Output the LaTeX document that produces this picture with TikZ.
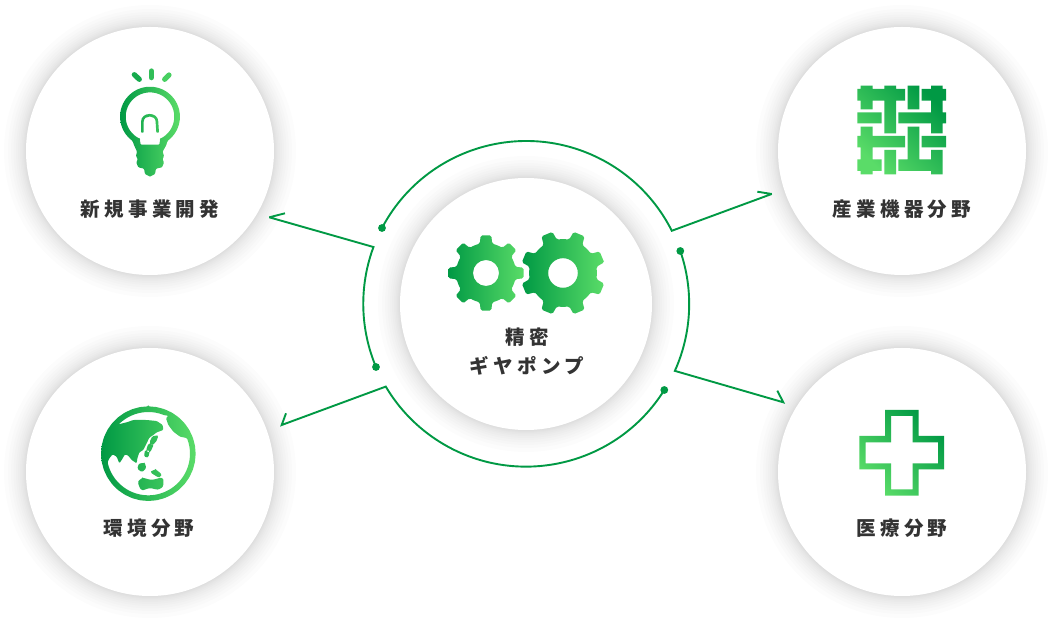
\documentclass[tikz,border=0pt]{standalone}
\usepackage{fontspec}
\newfontfamily\jpfont[LetterSpace=22]{Noto Sans CJK JP}
\definecolor{gDark}{HTML}{009944}
\definecolor{gLight}{HTML}{5ADC68}
\definecolor{ink}{HTML}{333333}
\tikzset{
	bubble/.style={circle,fill=white,inner sep=0pt,minimum size=248pt},
	hub/.style={circle,fill=white,inner sep=0pt,minimum size=252pt},
	lbl/.style={text=ink,align=center,font=\jpfont\bfseries\fontsize{19.5}{29.5}\selectfont},
	link/.style={gDark,line width=1.9pt,line join=miter,miter limit=3},
	dot/.style={fill=gDark,draw=none},
	gradh/.style={left color=gDark,right color=gLight},
	gradd/.style={left color=gLight,right color=gDark,shading angle=135},
	zoomed/.style={x=.33333pt,y=-.33333pt}
}
% centre, tip radius, root radius, hole radius, turn
\newcommand{\gearicon}[5]{
	\begin{scope}[shift={#1}]
	\shade[gradh,even odd rule,rounded corners=1.6pt] ({#5-8}:#2)
		\foreach \k in {0,...,7} {
			-- ({#5+\k*45-8}:#2) -- ({#5+\k*45+8}:#2) -- ({#5+\k*45+12}:#3)
			-- ({#5+\k*45+22.5}:#3) -- ({#5+\k*45+33}:#3)
		} -- cycle (0,0) circle (#4);
	\end{scope}
}
\begin{document}
\begin{tikzpicture}[x=1pt,y=1pt,line join=round]
	\useasboundingbox (0,0) rectangle (1053,624);
	\fill[white] (0,0) rectangle (1053,624);
	% soft shadows
	\foreach \cx/\cy/\cr in {150/473/124,902/473/124,150/152/124,902/152/124,526/320/126} {
		\foreach \d in {1,2,3,4.5,6,8,10,12.5,15,18,22} {
			\fill[black,opacity=.0105] (\cx,\cy) circle ({\cr+\d});
		}
	}
	\node[bubble] (bulbCircle) at (150,473) {};
	\node[bubble] (gridCircle) at (902,473) {};
	\node[bubble] (earthCircle) at (150,152) {};
	\node[bubble] (crossCircle) at (902,152) {};
	\node[hub] (pumpCircle) at (526,320) {};
	% labels
	\node[lbl] (bulbLabel) at (150,414.5) {新規事業開発};
	\node[lbl] (gridLabel) at (902,414.5) {産業機器分野};
	\node[lbl] (earthLabel) at (149,95.5) {環境分野};
	\node[lbl] (crossLabel) at (902,95.5) {医療分野};
	\node[lbl] (pumpLabel) at (527,272.5) {精密\\ギヤポンプ};
	% ring and arrows
	\coordinate (dotA) at (382,396);
	\coordinate (dotB) at (680.3,373);
	\coordinate (dotC) at (664.3,234);
	\coordinate (dotD) at (376,257);
	\coordinate (tipA) at (269.3,406.7);
	\coordinate (barbA) at (285,410.7);
	\coordinate (tipB) at (771.7,430);
	\coordinate (barbB) at (757.3,432.3);
	\coordinate (tipC) at (783.3,221.7);
	\coordinate (barbC) at (777.3,233.3);
	\coordinate (tipD) at (281.7,199);
	\coordinate (barbD) at (286,210.7);
	\draw[link] (dotD) arc[start angle=202.8,end angle=159.6,radius=163] -- (tipA) -- (barbA);
	\draw[link] (dotA) arc[start angle=152.2,end angle=26.7,radius=163] -- (tipB) -- (barbB);
	\draw[link] (dotB) arc[start angle=19,end angle=-24.2,radius=163] -- (tipC) -- (barbC);
	\draw[link] (dotC) arc[start angle=328,end angle=210.6,radius=163] -- (tipD) -- (barbD);
	\foreach \n in {dotA,dotB,dotC,dotD} {
		\fill[dot] (\n) circle (3.9);
	}
	% gears
	\gearicon{(486,351)}{38}{30}{13}{0}
	\gearicon{(563,351)}{42.5}{34}{14.8}{22.5}
	% bulb
	\begin{scope}[zoomed,shift={(90pt,574pt)}]
	\shade[gradh,even odd rule,rounded corners=.8pt] (232,274)
		\foreach \a in {-55,-45,...,235} { -- ({180+90*cos(\a)},{200-90*sin(\a)}) }
		-- (128,274) -- (132,285) -- (141,305) -- (138,318) -- (143,328) -- (139,338) -- (145,352)
		-- (162,356) -- (165,372) -- (180,380) -- (195,372) -- (198,356) -- (216,352) -- (222,338)
		-- (218,328) -- (222,318) -- (218,305) -- (229,285) -- cycle
		(211,266) \foreach \a in {-65,-55,...,245} { -- ({180+73*cos(\a)},{200-73*sin(\a)}) }
		-- (149,266) -- (152,284) -- (208,284) -- cycle
		(153,248) -- (153,218) .. controls (153,184) and (205,184) .. (205,218) -- (207,248)
		-- (199,248) -- (197,218) .. controls (197,194) and (161,194) .. (161,218) -- (161,248) -- cycle;
	\draw[gDark!75!gLight,line width=5.2pt,line cap=round] (133,74) -- (148,88);
	\draw[gDark!45!gLight,line width=5.2pt,line cap=round] (184,63) -- (184,83);
	\draw[gDark!20!gLight,line width=5.2pt,line cap=round] (224,88) -- (237,75);
	\end{scope}
	% woven square
	\begin{scope}[zoomed,shift={(840pt,554pt)}]
	\shade[gradd]
		(62,47) rectangle (98,118) (133,47) rectangle (168,190) (52,57) rectangle (195,92)
		(203,47) rectangle (238,118)
		(273,47) rectangle (308,190) (245,57) rectangle (318,92)
		(52,127) rectangle (125,160) (175,127) rectangle (318,160)
		(62,170) rectangle (98,313) (52,198) rectangle (195,232) (52,268) rectangle (125,303)
		(203,170) rectangle (238,303) (175,268) rectangle (303,303) (273,240) rectangle (308,313)
		(245,198) rectangle (318,232)
		(133,240) rectangle (168,313);
	\end{scope}
	% earth
	\begin{scope}[zoomed,shift={(90pt,229pt)}]
	\shade[gradh,even odd rule,rounded corners=1pt] (175,34)
		\foreach \a in {90,100,...,450} { -- ({175+142*cos(\a)},{176-142*sin(\a)}) } -- cycle
		(85,88) -- (110,82) -- (130,75) -- (170,75) -- (200,78) -- (218,90) -- (220,105) -- (200,112)
		-- (190,120) -- (178,128) -- (170,145) -- (160,165) -- (148,172) -- (142,190) -- (140,205)
		-- (125,195) -- (115,182) -- (105,178) -- (95,195) -- (88,205) -- (80,185) -- (68,178) -- (58,190)
		\foreach \a in {192,197,...,382} { -- ({175+125*cos(\a)},{176-125*sin(\a)}) }
		-- (270,125) -- (250,110) -- (235,90) -- (228,70) -- (235,62)
		\foreach \a in {67,72,...,130} { -- ({175+125*cos(\a)},{176-125*sin(\a)}) } -- cycle
		plot[smooth cycle] coordinates {(188,125) (202,124) (199,138) (188,148) (180,142)}
		plot[smooth cycle] coordinates {(176,148) (189,150) (180,170) (170,166)}
		plot[smooth cycle] coordinates {(166,168) (177,170) (174,185) (164,183)}
		plot[smooth cycle] coordinates {(148,207) (163,206) (167,219) (156,229) (144,221)}
		plot[smooth cycle] coordinates {(184,232) (197,225) (213,238) (205,246)}
		plot[smooth cycle] coordinates {(145,262) (158,250) (185,254) (216,250) (219,272) (205,283) (180,280) (155,284)};
	\end{scope}
	% cross
	\begin{scope}[zoomed,shift={(840pt,224pt)}]
	\shade[gradd,even odd rule]
		(135,30) -- (236,30) -- (236,108) -- (312,108) -- (312,208) -- (236,208) -- (236,287)
		-- (135,287) -- (135,208) -- (58,208) -- (58,108) -- (135,108) -- cycle
		(153,48) -- (218,48) -- (218,127) -- (294,127) -- (294,190) -- (218,190) -- (218,268)
		-- (153,268) -- (153,190) -- (77,190) -- (77,127) -- (153,127) -- cycle;
	\end{scope}
\end{tikzpicture}
\end{document}
